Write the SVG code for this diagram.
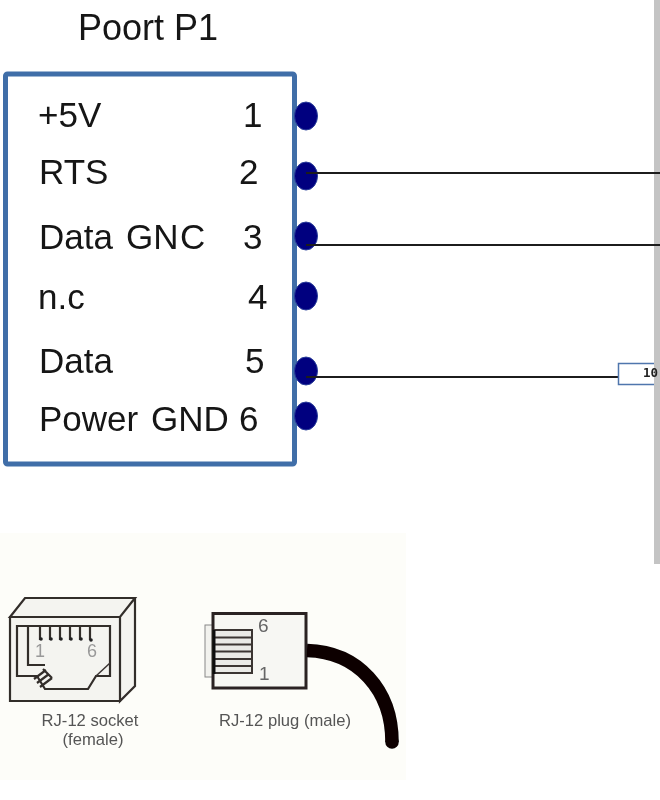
<svg xmlns="http://www.w3.org/2000/svg" width="660" height="800" viewBox="0 0 660 800">
<defs>
<filter id="soft" x="-5%" y="-5%" width="110%" height="110%"><feGaussianBlur stdDeviation="0.55"/></filter>
<filter id="soft2" x="-5%" y="-5%" width="110%" height="110%"><feGaussianBlur stdDeviation="0.35"/></filter>
</defs>
<style>
.t{font-family:"Liberation Sans",Arial,sans-serif;font-size:35px;fill:#151515}
.h{font-family:"Liberation Sans",Arial,sans-serif;font-size:36px;fill:#151515}
.s{font-family:"Liberation Sans",Arial,sans-serif;font-size:16.600px;fill:#555}
.n{font-family:"Liberation Sans",Arial,sans-serif;font-size:19px;fill:#666}
.pin{fill:#00007f;stroke:#2a3f9a;stroke-width:1}
.w{fill:none;stroke:#1c1c1c;stroke-width:2}
.d{fill:none;stroke:#332d2b;stroke-width:2.200}
.thin{fill:none;stroke:#3a3432;stroke-width:1.500}
.soft{filter:url(#soft)}
.soft2{filter:url(#soft2)}
</style>
<rect width="660" height="800" fill="#fff"/>
<rect x="0" y="533" width="406" height="247" fill="#fdfdf9"/>
<rect x="654" y="0" width="6" height="564" fill="#c4c4c4"/>
<g id="title" class="soft2"><text class="h" x="78" y="40">Poort P1</text></g>
<g id="port" class="soft2">
<rect x="5.500" y="74" width="289" height="390" rx="2" fill="#fff" stroke="#3f6ea8" stroke-width="5"/>
<text class="t" x="38" y="127">+5V</text>
<text class="t" x="39" y="184">RTS</text>
<text class="t" x="39" y="249">Data</text><text class="t" x="126" y="249">GN</text><text class="t" x="180" y="249">C</text>
<text class="t" x="38" y="309">n.c</text>
<text class="t" x="39" y="373">Data</text>
<text class="t" x="39" y="431">Power</text><text class="t" x="151" y="431">GND</text>
<text class="t" x="243" y="127">1</text>
<text class="t" x="239" y="184">2</text>
<text class="t" x="243" y="249">3</text>
<text class="t" x="248" y="309">4</text>
<text class="t" x="245" y="373">5</text>
<text class="t" x="239" y="431">6</text>
</g>
<g id="pin1" class="soft2"><ellipse class="pin" cx="306" cy="116" rx="11.500" ry="14"/></g>
<g id="pin2" class="soft2"><ellipse class="pin" cx="306" cy="176" rx="11.500" ry="14"/></g>
<g id="pin3" class="soft2"><ellipse class="pin" cx="306" cy="236" rx="11.500" ry="14"/></g>
<g id="pin4" class="soft2"><ellipse class="pin" cx="306" cy="296" rx="11.500" ry="14"/></g>
<g id="pin5" class="soft2"><ellipse class="pin" cx="306" cy="371" rx="11.500" ry="14"/></g>
<g id="pin6" class="soft2"><ellipse class="pin" cx="306" cy="416" rx="11.500" ry="14"/></g>
<g id="connectors">
<path class="w" d="M306 173H660"/>
<path class="w" d="M306 245H660"/>
<path class="w" d="M306 377H619"/>
</g>
<g id="resistor" class="soft2">
<path d="M654 363.500H618.500V384.500H654" fill="#fff" stroke="#4f76ad" stroke-width="1.500"/>
<text x="643" y="377" font-family="'DejaVu Sans Mono','Liberation Mono',monospace" font-size="12.500" font-weight="bold" fill="#222">10</text>
</g>
<g id="socket" class="soft">
<path d="M10 617L25 598H135V686L120 701H10Z" fill="#f4f4f0"/>
<path class="d" d="M10 617L25 598H135L120 617ZM135 598V686L120 701V617M10 617H120V701H10Z"/>
<path class="d" d="M17 626H110V676H96L88 689H45L37 676H17ZM28 626V665H45"/>
<path class="thin" d="M96 676L110 663"/>
<path class="d" d="M34 679L46 670M37 683L49 674M40 687L52 678M43 669L52 678"/>
<path class="d" d="M40 627V640M50 627V640M60 627V640M70 627V640M80 627V640M90 627V640"/>
<circle cx="41" cy="639" r="1.800" fill="#222"/><circle cx="51" cy="639" r="1.800" fill="#222"/><circle cx="61" cy="639" r="1.800" fill="#222"/><circle cx="71" cy="639" r="1.800" fill="#222"/><circle cx="81" cy="639" r="1.800" fill="#222"/><circle cx="91" cy="640" r="1.800" fill="#222"/>
<text x="35" y="657" font-family="Liberation Sans,sans-serif" font-size="18" fill="#999">1</text>
<text x="87" y="657" font-family="Liberation Sans,sans-serif" font-size="18" fill="#999">6</text>
<text class="s" x="90" y="726" text-anchor="middle">RJ-12 socket</text>
<text class="s" x="93" y="745" text-anchor="middle">(female)</text>
</g>
<g id="plug" class="soft">
<rect x="205" y="625" width="8" height="52" fill="#f2f2ee" stroke="#888" stroke-width="1"/>
<rect x="213" y="613.500" width="93" height="74.500" fill="#f7f7f3" stroke="#2a2422" stroke-width="3"/>
<rect x="214" y="630" width="39" height="44" fill="#eaeae6"/>
<path fill="none" stroke="#3a3432" stroke-width="2" d="M214 630H252V673H214M214 637.500H252M214 644.500H252M214 651.500H252M214 659H252M214 666H252"/>
<path fill="none" stroke="#111" stroke-width="3" d="M214 630V674"/>
<text class="n" x="258" y="632">6</text>
<text class="n" x="259" y="680">1</text>
<path d="M307 650.500C358 652 392 690 392 742" fill="none" stroke="#0a0505" stroke-width="13.500"/>
<circle cx="392" cy="742" r="6.750" fill="#0a0505"/>
<text class="s" x="285" y="726" text-anchor="middle">RJ-12 plug (male)</text>
</g>
</svg>
